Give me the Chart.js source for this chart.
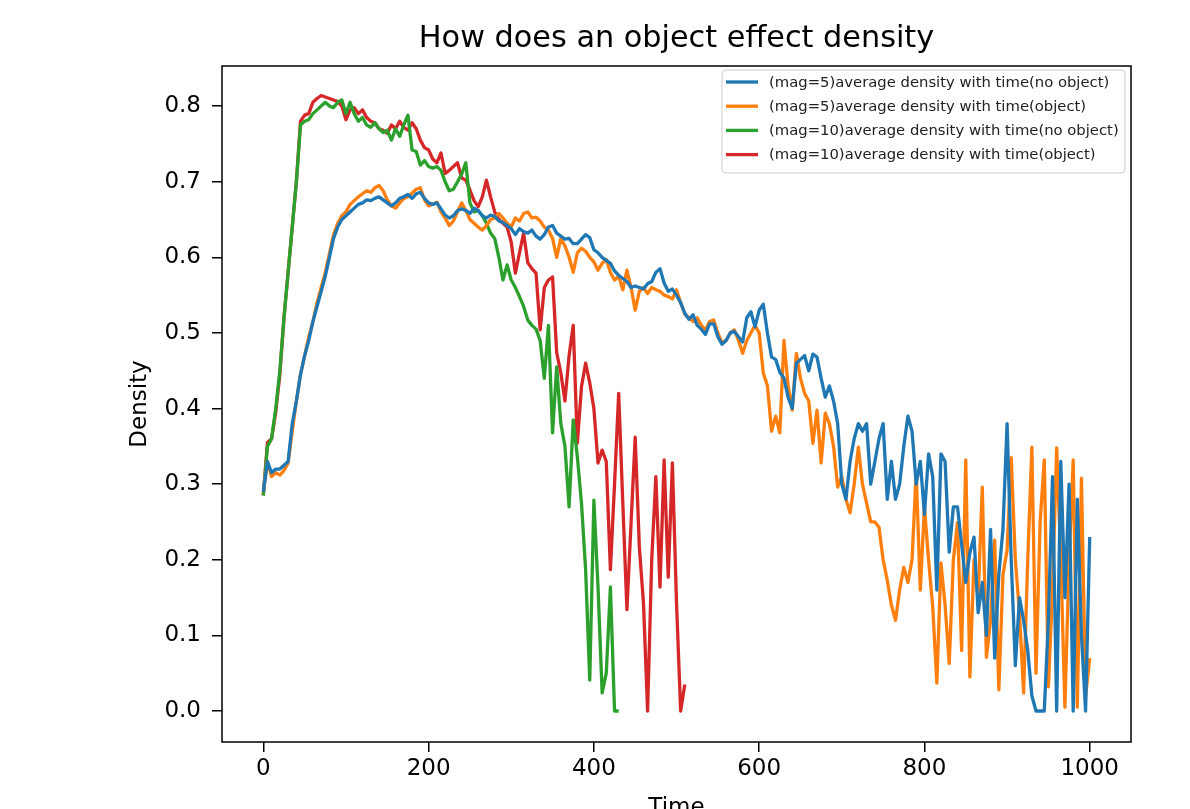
<!DOCTYPE html>
<html>
<head>
<meta charset="utf-8">
<script src="https://cdn.jsdelivr.net/npm/chart.js@4.4.1/dist/chart.umd.min.js"></script>
<style>
  html, body { margin: 0; padding: 0; background: #fff; overflow: hidden; }
  #wrap { width: 1190px; height: 830px; }
  canvas { display: block; }
</style>
</head>
<body>
<div id="wrap"><canvas id="c" width="1190" height="830"></canvas></div>
<script>
const times = [
  0,5,10,15,20,25,30,35,40,45,50,55,60,65,70,75,80,85,90,95,
  100,105,110,115,120,125,130,135,140,145,150,155,160,165,170,175,180,185,190,195,
  200,205,210,215,220,225,230,235,240,245,250,255,260,265,270,275,280,285,290,295,
  300,305,310,315,320,325,330,335,340,345,350,355,360,365,370,375,380,385,390,395,
  400,405,410,415,420,425,430,435,440,445,450,455,460,465,470,475,480,485,490,495,
  500,505,510,515,520,525,530,535,540,545,550,555,560,565,570,575,580,585,590,595,
  600,605,610,615,620,625,630,635,640,645,650,655,660,665,670,675,680,685,690,695,
  700,705,710,715,720,725,730,735,740,745,750,755,760,765,770,775,780,785,790,795,
  800,805,810,815,820,825,830,835,840,845,850,855,860,865,870,875,880,885,890,895,
  900,905,910,915,920,925,930,935,940,945,950,955,960,965,970,975,980,985,990,995,
  1000
];

const mag5NoObject = [
  0.29,0.33,0.315,0.32,0.32,0.325,0.33,0.38,0.41,0.445,0.47,0.49,0.515,0.535,0.555,0.575,0.6,0.625,0.64,0.65,
  0.655,0.66,0.665,0.67,0.672,0.676,0.675,0.678,0.68,0.676,0.672,0.668,0.672,0.678,0.68,0.683,0.678,0.684,0.686,0.678,
  0.672,0.67,0.672,0.664,0.656,0.652,0.655,0.662,0.664,0.662,0.658,0.665,0.662,0.655,0.652,0.656,0.654,0.648,0.646,0.642,
  0.638,0.63,0.638,0.634,0.632,0.636,0.628,0.624,0.63,0.64,0.642,0.632,0.628,0.624,0.625,0.618,0.618,0.624,0.63,0.626,
  0.61,0.606,0.6,0.596,0.592,0.582,0.576,0.572,0.568,0.56,0.562,0.56,0.558,0.565,0.568,0.58,0.585,0.566,0.555,0.558,
  0.55,0.54,0.526,0.518,0.524,0.51,0.505,0.498,0.512,0.512,0.495,0.485,0.49,0.5,0.502,0.495,0.488,0.52,0.528,0.508,
  0.53,0.538,0.5,0.468,0.465,0.448,0.44,0.415,0.4,0.46,0.465,0.47,0.45,0.472,0.468,0.44,0.415,0.43,0.41,0.38,
  0.3,0.28,0.33,0.36,0.38,0.37,0.38,0.3,0.33,0.36,0.38,0.28,0.33,0.28,0.3,0.35,0.39,0.37,0.3,0.33,
  0.26,0.34,0.31,0.16,0.34,0.33,0.21,0.27,0.27,0.22,0.17,0.21,0.23,0.13,0.17,0.1,0.24,0.07,0.18,0.24,
  0.38,0.2,0.06,0.15,0.12,0.08,0.02,0.0,0.0,0.0,0.12,0.31,0.0,0.33,0.15,0.3,0.0,0.28,0.1,0.0,
  0.23
];

const mag5Object = [
  0.29,0.33,0.31,0.315,0.312,0.318,0.328,0.37,0.41,0.445,0.47,0.495,0.515,0.54,0.56,0.58,0.605,0.63,0.645,0.655,
  0.66,0.67,0.675,0.68,0.684,0.688,0.686,0.692,0.695,0.688,0.676,0.668,0.665,0.672,0.678,0.68,0.685,0.69,0.692,0.676,
  0.668,0.67,0.673,0.66,0.652,0.642,0.648,0.66,0.672,0.662,0.65,0.645,0.64,0.636,0.642,0.65,0.652,0.658,0.652,0.645,
  0.64,0.652,0.648,0.658,0.66,0.652,0.653,0.648,0.64,0.636,0.625,0.6,0.625,0.615,0.6,0.58,0.606,0.612,0.608,0.6,
  0.594,0.583,0.592,0.597,0.58,0.57,0.575,0.557,0.583,0.56,0.53,0.555,0.56,0.552,0.56,0.557,0.555,0.55,0.548,0.545,
  0.557,0.54,0.525,0.52,0.515,0.52,0.51,0.504,0.515,0.517,0.5,0.487,0.49,0.5,0.504,0.49,0.473,0.49,0.5,0.51,
  0.5,0.447,0.43,0.37,0.39,0.368,0.49,0.43,0.398,0.473,0.44,0.42,0.41,0.354,0.398,0.328,0.394,0.38,0.35,0.296,
  0.31,0.28,0.262,0.3,0.349,0.3,0.275,0.25,0.25,0.243,0.2,0.173,0.14,0.12,0.16,0.19,0.17,0.2,0.315,0.16,
  0.27,0.2,0.138,0.037,0.196,0.14,0.063,0.2,0.249,0.08,0.332,0.045,0.2,0.15,0.296,0.071,0.12,0.226,0.028,0.18,
  0.213,0.335,0.2,0.13,0.024,0.2,0.349,0.05,0.25,0.332,0.032,0.16,0.348,0.2,0.005,0.2,0.332,0.005,0.308,0.019,
  0.07
];

const mag10NoObject = [
  0.285,0.35,0.36,0.4,0.45,0.52,0.58,0.64,0.7,0.775,0.78,0.782,0.79,0.795,0.8,0.805,0.8,0.798,0.805,0.808,
  0.79,0.805,0.79,0.78,0.785,0.775,0.772,0.778,0.77,0.765,0.768,0.755,0.77,0.76,0.775,0.788,0.742,0.74,0.722,0.728,
  0.72,0.718,0.72,0.715,0.7,0.688,0.69,0.7,0.71,0.725,0.672,0.66,0.662,0.655,0.645,0.632,0.625,0.6,0.57,0.59,
  0.57,0.56,0.548,0.535,0.517,0.51,0.505,0.49,0.44,0.51,0.368,0.455,0.38,0.35,0.27,0.385,0.336,0.275,0.187,0.041,
  0.279,0.164,0.024,0.05,0.164,0.0,0.0
];

const mag10Object = [
  0.285,0.355,0.36,0.395,0.445,0.52,0.58,0.64,0.7,0.78,0.788,0.79,0.805,0.81,0.814,0.812,0.81,0.808,0.806,0.8,
  0.782,0.795,0.798,0.79,0.795,0.785,0.78,0.778,0.77,0.768,0.764,0.775,0.77,0.78,0.772,0.768,0.778,0.77,0.755,0.745,
  0.742,0.73,0.725,0.738,0.711,0.715,0.72,0.725,0.705,0.702,0.689,0.675,0.667,0.68,0.702,0.68,0.66,0.65,0.645,0.64,
  0.62,0.579,0.606,0.632,0.593,0.585,0.579,0.504,0.56,0.57,0.574,0.474,0.447,0.41,0.47,0.51,0.354,0.429,0.46,0.434,
  0.4,0.328,0.345,0.33,0.187,0.3,0.42,0.275,0.134,0.249,0.362,0.217,0.143,0.0,0.2,0.31,0.164,0.332,0.177,0.328,
  0.143,0.0,0.035
];

const seriesLabels = [
  '(mag=5)average density with time(no object)',
  '(mag=5)average density with time(object)',
  '(mag=10)average density with time(no object)',
  '(mag=10)average density with time(object)'
];
const seriesColors = ['#1f77b4', '#ff7f0e', '#2ca02c', '#d62728'];

const xTicks = [0, 200, 400, 600, 800, 1000];
const xTickLabels = ['0', '200', '400', '600', '800', '1000'];
const yTicks = [0, 0.1, 0.2, 0.3, 0.4, 0.5, 0.6, 0.7, 0.8];
const yTickLabels = ['0.0', '0.1', '0.2', '0.3', '0.4', '0.5', '0.6', '0.7', '0.8'];

const titleText = 'How does an object effect density';
const xTitle = 'Time';
const yTitle = 'Density';

// ---------- chart ----------
const FONT = "'DejaVu Sans', 'Liberation Sans', sans-serif";
const allSeries = [mag5NoObject, mag5Object, mag10NoObject, mag10Object];
const toPoints = vals => vals.map((v, i) => ({ x: times[i], y: v }));

const datasets = allSeries.map((vals, i) => ({
  label: seriesLabels[i],
  data: toPoints(vals),
  borderColor: seriesColors[i],
  backgroundColor: seriesColors[i],
  borderWidth: 3.3,
  pointRadius: 0,
  tension: 0,
  fill: false,
  borderJoinStyle: 'round',
  borderCapStyle: 'butt'
}));

const decorPlugin = {
  id: 'decor',
  afterDatasetsDraw(chart) {
    const { ctx, chartArea: a } = chart;
    ctx.save();
    // axes frame
    ctx.strokeStyle = '#000';
    ctx.lineWidth = 1.5;
    ctx.strokeRect(a.left, a.top, a.right - a.left, a.bottom - a.top);
    // title
    ctx.fillStyle = '#000';
    ctx.font = "30.3px " + FONT;
    ctx.textAlign = 'center';
    ctx.textBaseline = 'alphabetic';
    ctx.fillText(titleText, (a.left + a.right) / 2, 47);
    // legend
    const bx = 722, by = 70, bw = 403, bh = 103, r = 4;
    ctx.beginPath();
    ctx.moveTo(bx + r, by);
    ctx.lineTo(bx + bw - r, by);
    ctx.quadraticCurveTo(bx + bw, by, bx + bw, by + r);
    ctx.lineTo(bx + bw, by + bh - r);
    ctx.quadraticCurveTo(bx + bw, by + bh, bx + bw - r, by + bh);
    ctx.lineTo(bx + r, by + bh);
    ctx.quadraticCurveTo(bx, by + bh, bx, by + bh - r);
    ctx.lineTo(bx, by + r);
    ctx.quadraticCurveTo(bx, by, bx + r, by);
    ctx.closePath();
    ctx.fillStyle = 'rgba(255,255,255,0.8)';
    ctx.fill();
    ctx.strokeStyle = '#cccccc';
    ctx.lineWidth = 1;
    ctx.stroke();
    ctx.font = "14.8px " + FONT;
    ctx.textAlign = 'left';
    ctx.textBaseline = 'middle';
    chart.data.datasets.forEach((ds, i) => {
      const y = 82 + i * 24.2;
      ctx.strokeStyle = ds.borderColor;
      ctx.lineWidth = 3.3;
      ctx.beginPath();
      ctx.moveTo(726, y);
      ctx.lineTo(758, y);
      ctx.stroke();
      ctx.fillStyle = '#222';
      ctx.fillText(ds.label, 769, y + 1);
    });
    ctx.restore();
  }
};

new Chart(document.getElementById('c'), {
  type: 'line',
  data: { datasets },
  options: {
    responsive: false,
    animation: false,
    events: [],
    layout: { padding: { top: 66, right: 59, left: 0, bottom: 0 } },
    plugins: {
      legend: { display: false },
      title: { display: false },
      tooltip: { enabled: false }
    },
    scales: {
      x: {
        type: 'linear',
        min: -50,
        max: 1049.95,
        afterBuildTicks: s => { s.ticks = xTicks.map(v => ({ value: v })); },
        afterFit: s => { s.height = 88; },
        grid: { drawOnChartArea: false, drawTicks: true, tickLength: 10, color: '#000', lineWidth: 1.5 },
        border: { display: false },
        ticks: {
          font: { family: FONT, size: 23 },
          color: '#000',
          padding: 3,
          maxRotation: 0,
          autoSkip: false,
          callback: (v, i) => xTickLabels[i]
        },
        title: {
          display: true,
          text: xTitle,
          font: { family: FONT, size: 23 },
          color: '#000',
          padding: { top: 0, bottom: 8 }
        }
      },
      y: {
        type: 'linear',
        min: -0.041,
        max: 0.853,
        afterBuildTicks: s => { s.ticks = yTicks.map(v => ({ value: v })); },
        afterFit: s => { s.width = 222; },
        grid: { drawOnChartArea: false, drawTicks: true, tickLength: 10, color: '#000', lineWidth: 1.5 },
        border: { display: false },
        ticks: {
          font: { family: FONT, size: 23 },
          color: '#000',
          padding: 11,
          autoSkip: false,
          callback: (v, i) => yTickLabels[i]
        },
        title: {
          display: true,
          text: yTitle,
          font: { family: FONT, size: 23 },
          color: '#000',
          padding: { top: 126, bottom: 0 }
        }
      }
    }
  },
  plugins: [decorPlugin]
});
</script>
</body>
</html>
